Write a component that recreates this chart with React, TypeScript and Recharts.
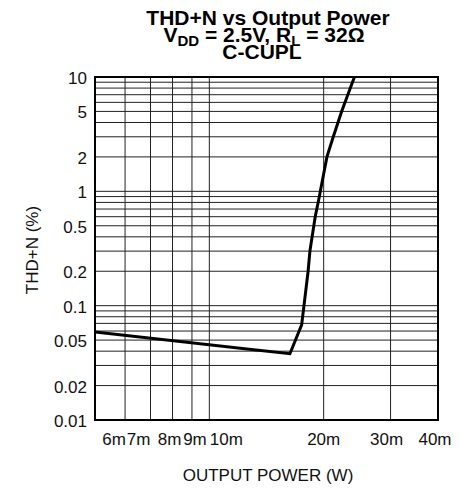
import React from "react";
import {
  LineChart,
  Line,
  XAxis,
  YAxis,
  CartesianGrid,
  ReferenceArea
} from "recharts";

// output power in W, THD+N in %
const POWER = [0.005, 0.0163, 0.0175, 0.01775, 0.0182, 0.0184, 0.019, 0.0194, 0.0196, 0.0204, 0.0212, 0.0223, 0.0241];
const THD = [0.059, 0.038, 0.068, 0.1, 0.2, 0.3, 0.6, 0.84, 1, 2, 3, 5, 10];

const X_TICKS = [0.006, 0.007, 0.008, 0.009, 0.01, 0.02, 0.03, 0.04];
const X_LABELS = ["6m", "7m", "8m", "9m", "10m", "20m", "30m", "40m"];

const Y_GRID = [
  0.01, 0.02, 0.03, 0.04, 0.05, 0.06, 0.07, 0.08, 0.09,
  0.1, 0.2, 0.3, 0.4, 0.5, 0.6, 0.7, 0.8, 0.9,
  1, 2, 3, 4, 5, 6, 7, 8, 9, 10
];
const Y_LABELED = [0.01, 0.02, 0.05, 0.1, 0.2, 0.5, 1, 2, 5, 10];

const data = POWER.map((p, i) => ({ p, thd: THD[i] }));

const FONT = "'Liberation Sans', Arial, Helvetica, sans-serif";

// the crowded x labels are nudged like in the original
const X_NUDGE: Record<number, number> = {
  0.006: -11, 0.007: -12, 0.008: -3, 0.009: 3, 0.01: 17, 0.03: -4, 0.04: -3
};

const XTick = (props: any) => {
  const { x, y, payload } = props;
  const idx = X_TICKS.indexOf(payload.value);
  if (idx < 0) return null;
  return (
    <text
      x={x + (X_NUDGE[payload.value] || 0)}
      y={y}
      dy={17}
      textAnchor="middle"
      fontSize={17}
      fontFamily={FONT}
      fill="#111"
    >
      {X_LABELS[idx]}
    </text>
  );
};

const YTick = (props: any) => {
  const { x, y, payload } = props;
  if (!Y_LABELED.includes(payload.value)) return <g />;
  return (
    <text
      x={x}
      y={y}
      dy={7}
      textAnchor="end"
      fontSize={17}
      fontFamily={FONT}
      fill="#111"
    >
      {String(payload.value)}
    </text>
  );
};

export default function App() {
  return (
    <div
      style={{
        position: "absolute",
        left: 0,
        top: 0,
        width: 460,
        height: 490,
        background: "#fff",
        fontFamily: FONT
      }}
    >
      <svg
        width={460}
        height={62}
        style={{ position: "absolute", left: 0, top: 0 }}
      >
        <g fontFamily={FONT} fontWeight="bold" fontSize={21} fill="#000" textAnchor="middle">
          <text x={268} y={25}>THD+N vs Output Power</text>
          <text x={264} y={42}>
            V<tspan fontSize={15} dy={4}>DD</tspan>
            <tspan dy={-4}> = 2.5V, R</tspan>
            <tspan fontSize={15} dy={4}>L</tspan>
            <tspan dy={-4}> = 32Ω</tspan>
          </text>
          <text x={262} y={59}>C-CUPL</text>
        </g>
      </svg>

      <LineChart
        width={460}
        height={490}
        data={data}
        margin={{ top: 77, right: 22, bottom: 0, left: 0 }}
      >
        <CartesianGrid stroke="#222" strokeWidth={1} />
        <XAxis
          dataKey="p"
          type="number"
          scale="log"
          domain={[0.005, 0.04]}
          allowDataOverflow
          ticks={X_TICKS}
          interval={0}
          axisLine={false}
          tickLine={false}
          tickSize={6}
          tickMargin={2}
          tick={<XTick />}
          height={70}
        />
        <YAxis
          type="number"
          scale="log"
          domain={[0.01, 10]}
          allowDataOverflow
          ticks={Y_GRID}
          interval={0}
          axisLine={false}
          tickLine={false}
          tickSize={6}
          tickMargin={2}
          tick={<YTick />}
          width={95}
        />
        <ReferenceArea
          x1={0.005}
          x2={0.04}
          y1={0.01}
          y2={10}
          fill="none"
          stroke="#000"
          strokeWidth={2}
          fillOpacity={0}
        />
        <Line
          dataKey="thd"
          type="linear"
          stroke="#000"
          strokeWidth={3}
          dot={false}
          isAnimationActive={false}
        />
      </LineChart>

      <div
        style={{
          position: "absolute",
          left: 0,
          top: 466,
          width: 536,
          textAlign: "center",
          fontSize: 17,
          color: "#111",
          lineHeight: "20px"
        }}
      >
        OUTPUT POWER (W)
      </div>
      <div
        style={{
          position: "absolute",
          left: 33,
          top: 250,
          transform: "translate(-50%, -50%) rotate(-90deg)",
          whiteSpace: "nowrap",
          fontSize: 17,
          color: "#111",
          lineHeight: "20px"
        }}
      >
        THD+N (%)
      </div>
    </div>
  );
}
